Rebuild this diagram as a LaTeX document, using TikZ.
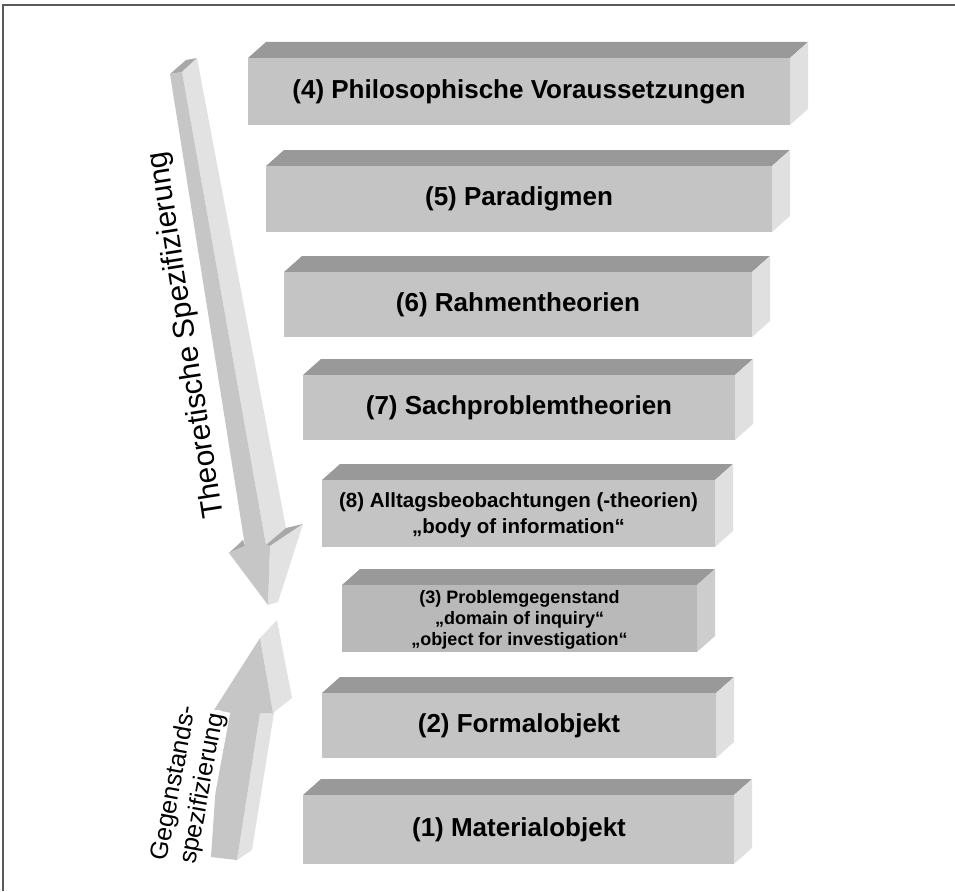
\documentclass[tikz,border=0pt]{standalone}
\usepackage{fontspec}
\setmainfont{Liberation Sans}
\usetikzlibrary{positioning}
\definecolor{blockfront}{HTML}{C4C4C4}
\definecolor{blocktop}{HTML}{999999}
\definecolor{blockside}{HTML}{E0E0E0}
\definecolor{probfront}{HTML}{B9B9B9}
\definecolor{probside}{HTML}{CDCDCD}
\definecolor{arrowfront}{HTML}{C6C6C6}
\definecolor{arrowside}{HTML}{E2E2E2}
\definecolor{arrowtop}{HTML}{A8A8A8}
\definecolor{framegray}{HTML}{5A5A5A}

% front face x1,y1,x2,y2, front colour, side colour
\newcommand{\drawblock}[6]{%
  \fill[blocktop] (#1,#2) -- (#1+18,#2-16) -- (#3+18,#2-16) -- (#3,#2) -- cycle;
  \fill[#6] (#3,#2) -- (#3+18,#2-16) -- (#3+18,#4-16) -- (#3,#4) -- cycle;
  \fill[#5] (#1,#2) rectangle (#3,#4);
}

\begin{document}
\begin{tikzpicture}[x=1pt, y=-1pt,
  bigtext/.style={font=\fontsize{26}{30}\selectfont\bfseries, inner sep=0pt},
  midtext/.style={font=\fontsize{20.5}{26}\selectfont\bfseries, align=center, inner sep=0pt},
  smalltext/.style={font=\fontsize{18}{21}\selectfont\bfseries, align=center, inner sep=0pt},
  arrowlabel/.style={font=\fontsize{25}{29}\selectfont, align=center, inner sep=1pt}]
  \useasboundingbox (0,0) rectangle (955,891);
  \draw[framegray, line width=1.2pt] (3,891) -- (3,5) -- (955,5);

  % down arrow
  \fill[arrowtop] (170,74) -- (186,60) -- (197,58) -- (182,72) -- cycle;
  \fill[arrowside] (182,72) -- (197,58) -- (286,528) -- (266,545) -- cycle;
  \fill[arrowtop] (266,545) -- (286,528) -- (303,524) -- (270,546) -- cycle;
  \fill[arrowside] (270,546) -- (303,524) -- (278,602) -- (268,605) -- cycle;
  \fill[arrowtop] (229,553) -- (243,540) -- (245,546) -- cycle;
  \fill[arrowfront] (170,74) -- (182,72) -- (266,545) -- (270,546) -- (268,605)
    -- (229,553) -- (245,546) -- cycle;
  \node[arrowlabel, font=\fontsize{30}{34}\selectfont, rotate=98.9] (theolabel) at (187,335)
    {Theoretische Spezifizierung};

  % up arrow
  \fill[arrowside] (237,860) -- (252,850) -- (274,713) -- (260,713) -- cycle;
  \fill[arrowside] (260,638) -- (277,620) -- (292,698) -- (273,713) -- cycle;
  \fill[arrowfront] (211,857) -- (237,860) -- (260,713) -- (273,713) -- (260,638)
    -- (214,710) -- (221,710) -- cycle;
  \node[arrowlabel, fill=white, rotate=79.5] (gegenlabel) at (189,786)
    {Gegenstands-\\spezifizierung};

  % blocks
  \drawblock{248}{58}{790}{125}{blockfront}{blockside}
  \drawblock{266}{166}{772}{232}{blockfront}{blockside}
  \drawblock{284}{272}{752}{337}{blockfront}{blockside}
  \drawblock{303}{375}{735}{440}{blockfront}{blockside}
  \drawblock{322}{480}{715}{547}{blockfront}{blockside}
  \drawblock{342}{585}{697}{652}{probfront}{probside}
  \drawblock{322}{693}{716}{758}{blockfront}{blockside}
  \drawblock{303}{795}{734}{864}{blockfront}{blockside}

  \node[bigtext] (philo) at (519,91.5) {(4) Philosophische Voraussetzungen};
  \node[bigtext] (para) at (519,199) {(5) Paradigmen};
  \node[bigtext] (rahmen) at (518,304.5) {(6) Rahmentheorien};
  \node[bigtext] (sach) at (519,407.5) {(7) Sachproblemtheorien};
  \node[midtext] (alltag) at (518.5,515) {(8) Alltagsbeobachtungen (-theorien)\\„body of information“};
  \node[smalltext] (problem) at (519.5,620) {(3) Problemgegenstand\\„domain of inquiry“\\„object for investigation“};
  \node[bigtext] (formal) at (519,725.5) {(2) Formalobjekt};
  \node[bigtext] (material) at (519,829.5) {(1) Materialobjekt};
\end{tikzpicture}
\end{document}
